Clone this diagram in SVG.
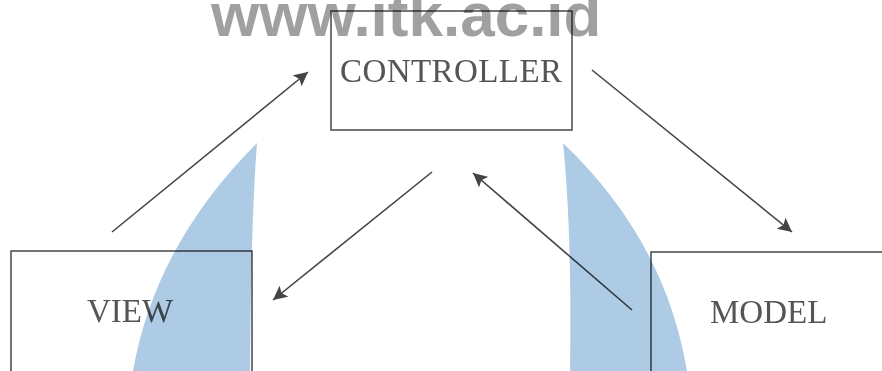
<svg xmlns="http://www.w3.org/2000/svg" width="882" height="371" viewBox="0 0 882 371">
  <defs>
    <style>
      .box { fill: #ffffff; stroke: #3a3a3a; stroke-width: 1.4; }
      .label { font-family: "Liberation Serif", "Times New Roman", serif; font-size: 33px; fill: #555555; }
      .wm { font-family: "Liberation Sans", Arial, sans-serif; font-weight: bold; font-size: 62px; fill: #a0a0a0; mix-blend-mode: multiply; }
      .edge { stroke: #444444; stroke-width: 1.6; fill: none; marker-end: url(#arrow); }
      .blob { fill: #aecbe5; mix-blend-mode: multiply; }
    </style>
    <marker id="arrow" markerUnits="userSpaceOnUse" markerWidth="18" markerHeight="14" refX="14" refY="7" orient="auto">
      <path d="M0,0 L14,7 L0,14 L3,7 Z" fill="#444444"/>
    </marker>
  </defs>
  <rect width="882" height="371" fill="#ffffff"/>

  <g id="controller">
    <rect class="box" x="331" y="11" width="241" height="119"/>
    <text class="label" x="340" y="82" textLength="222">CONTROLLER</text>
  </g>
  <g id="view">
    <rect class="box" x="11" y="251" width="241" height="140"/>
    <text class="label" x="87" y="322">VIEW</text>
  </g>
  <g id="model">
    <rect class="box" x="651" y="252" width="260" height="140"/>
    <text class="label" x="710" y="323">MODEL</text>
  </g>

  <g id="connectors">
    <line class="edge" x1="112" y1="232" x2="308" y2="72"/>
    <line class="edge" x1="592" y1="70" x2="792" y2="232"/>
    <line class="edge" x1="432" y1="172" x2="273" y2="300"/>
    <line class="edge" x1="632" y1="310" x2="473" y2="173"/>
  </g>

  <g id="decor">
    <path class="blob" d="M257,143 Q155,245 133,371 L250,371 Q251,220 257,143 Z"/>
    <path class="blob" d="M563,143 Q665,240 687,371 L570,371 Q572,230 563,143 Z"/>
  </g>

  <text class="wm" x="211" y="36">www.itk.ac.id</text>
</svg>
